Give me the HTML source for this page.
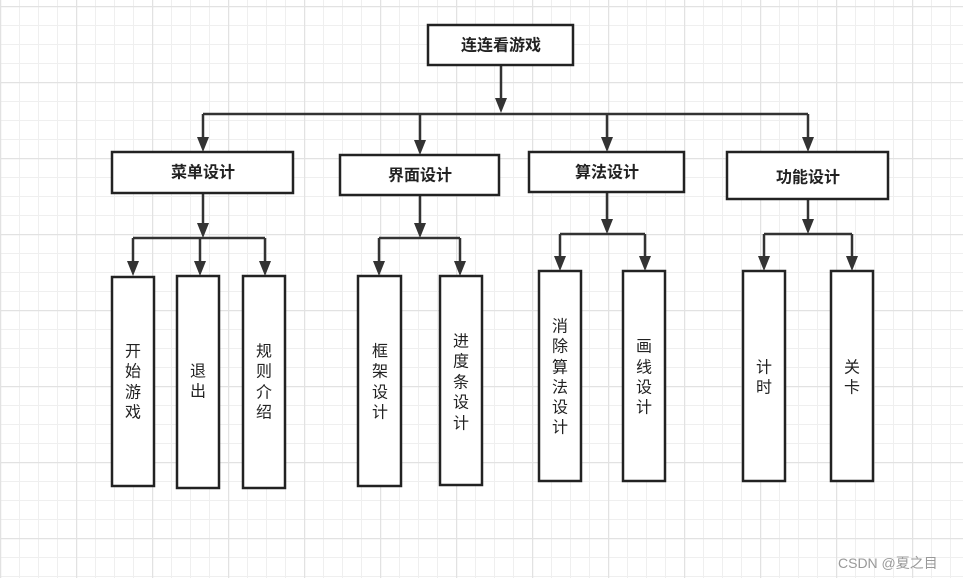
<!DOCTYPE html>
<html><head><meta charset="utf-8"><style>
html,body{margin:0;padding:0;background:#fff;}
svg{display:block;}
text{font-family:"Liberation Sans","Noto Sans CJK SC",sans-serif;fill:#222;}
.b{font-weight:bold;font-size:16px;}
.c{font-size:16px;}
</style></head><body>
<svg width="963" height="578" viewBox="0 0 963 578" xmlns="http://www.w3.org/2000/svg">
<defs>
<pattern id="mn" x="0" y="6" width="19" height="19" patternUnits="userSpaceOnUse">
<path d="M0.5 0V19M0 0.5H19" stroke="#efefef" stroke-width="1" fill="none"/>
</pattern>
<pattern id="mj" x="0" y="6" width="76" height="76" patternUnits="userSpaceOnUse">
<path d="M0.5 0V76M0 0.5H76" stroke="#e2e2e2" stroke-width="1.5" fill="none"/>
</pattern>
<marker id="a" viewBox="0 0 12 15" refX="6" refY="15" markerWidth="12" markerHeight="15" markerUnits="userSpaceOnUse" orient="auto-start-reverse">
</marker>
</defs>
<rect width="963" height="578" fill="#fff"/>
<rect width="963" height="578" fill="url(#mn)"/>
<rect width="963" height="578" fill="url(#mj)"/>
<g stroke="#333" stroke-width="2.5" fill="none">
<path d="M501 65V100"/>
<path d="M203 114H808"/>
<path d="M203 114V138M420 114V141M607 114V138M808 114V138"/>
<path d="M203 193V224M133 238H265M133 238V262M200 238V262M265 238V262"/>
<path d="M420 195V224M379 238H460M379 238V262M460 238V262"/>
<path d="M607 192V220M560 234H645M560 234V257M645 234V257"/>
<path d="M808 199V220M764 234H852M764 234V257M852 234V257"/>
</g>
<g fill="#333">
<path d="M495 98H507L501 113Z"/>
<path d="M197 137H209L203 152Z"/>
<path d="M414 140H426L420 155Z"/>
<path d="M601 137H613L607 152Z"/>
<path d="M802 137H814L808 152Z"/>
<path d="M197 223H209L203 238Z"/>
<path d="M127 261H139L133 276Z"/>
<path d="M194 261H206L200 276Z"/>
<path d="M259 261H271L265 276Z"/>
<path d="M414 223H426L420 238Z"/>
<path d="M373 261H385L379 276Z"/>
<path d="M454 261H466L460 276Z"/>
<path d="M601 219H613L607 234Z"/>
<path d="M554 256H566L560 271Z"/>
<path d="M639 256H651L645 271Z"/>
<path d="M802 219H814L808 234Z"/>
<path d="M758 256H770L764 271Z"/>
<path d="M846 256H858L852 271Z"/>
</g>
<g stroke="#222" stroke-width="2.5" fill="#fff">
<rect x="428" y="25" width="145" height="40"/>
<rect x="112" y="152" width="181" height="41"/>
<rect x="340" y="155" width="159" height="40"/>
<rect x="529" y="152" width="155" height="40"/>
<rect x="727" y="152" width="161" height="47"/>
<rect x="112" y="277" width="42" height="209"/>
<rect x="177" y="276" width="42" height="212"/>
<rect x="243" y="276" width="42" height="212"/>
<rect x="358" y="276" width="43" height="210"/>
<rect x="440" y="276" width="42" height="209"/>
<rect x="539" y="271" width="42" height="210"/>
<rect x="623" y="271" width="42" height="210"/>
<rect x="743" y="271" width="42" height="210"/>
<rect x="831" y="271" width="42" height="210"/>
</g>
<g class="b" text-anchor="middle" dominant-baseline="central">
<text x="501" y="46">连连看游戏</text>
<text x="203" y="173">菜单设计</text>
<text x="420" y="176">界面设计</text>
<text x="607" y="173">算法设计</text>
<text x="808" y="178">功能设计</text>
</g>
<g class="c" text-anchor="middle" dominant-baseline="central">
<text x="133" y="352">开</text><text x="133" y="372">始</text><text x="133" y="393">游</text><text x="133" y="413">戏</text>
<text x="198" y="372">退</text><text x="198" y="392">出</text>
<text x="264" y="352">规</text><text x="264" y="372">则</text><text x="264" y="393">介</text><text x="264" y="413">绍</text>
<text x="380" y="352">框</text><text x="380" y="372">架</text><text x="380" y="393">设</text><text x="380" y="413">计</text>
<text x="461" y="342">进</text><text x="461" y="362">度</text><text x="461" y="383">条</text><text x="461" y="403">设</text><text x="461" y="424">计</text>
<text x="560" y="327">消</text><text x="560" y="347">除</text><text x="560" y="368">算</text><text x="560" y="388">法</text><text x="560" y="408">设</text><text x="560" y="428">计</text>
<text x="644" y="347">画</text><text x="644" y="368">线</text><text x="644" y="388">设</text><text x="644" y="408">计</text>
<text x="764" y="368">计</text><text x="764" y="388">时</text>
<text x="852" y="368">关</text><text x="852" y="388">卡</text>
</g>
<text x="838" y="568" font-size="14" style="fill:#999">CSDN @夏之目</text>
</svg>
</body></html>
